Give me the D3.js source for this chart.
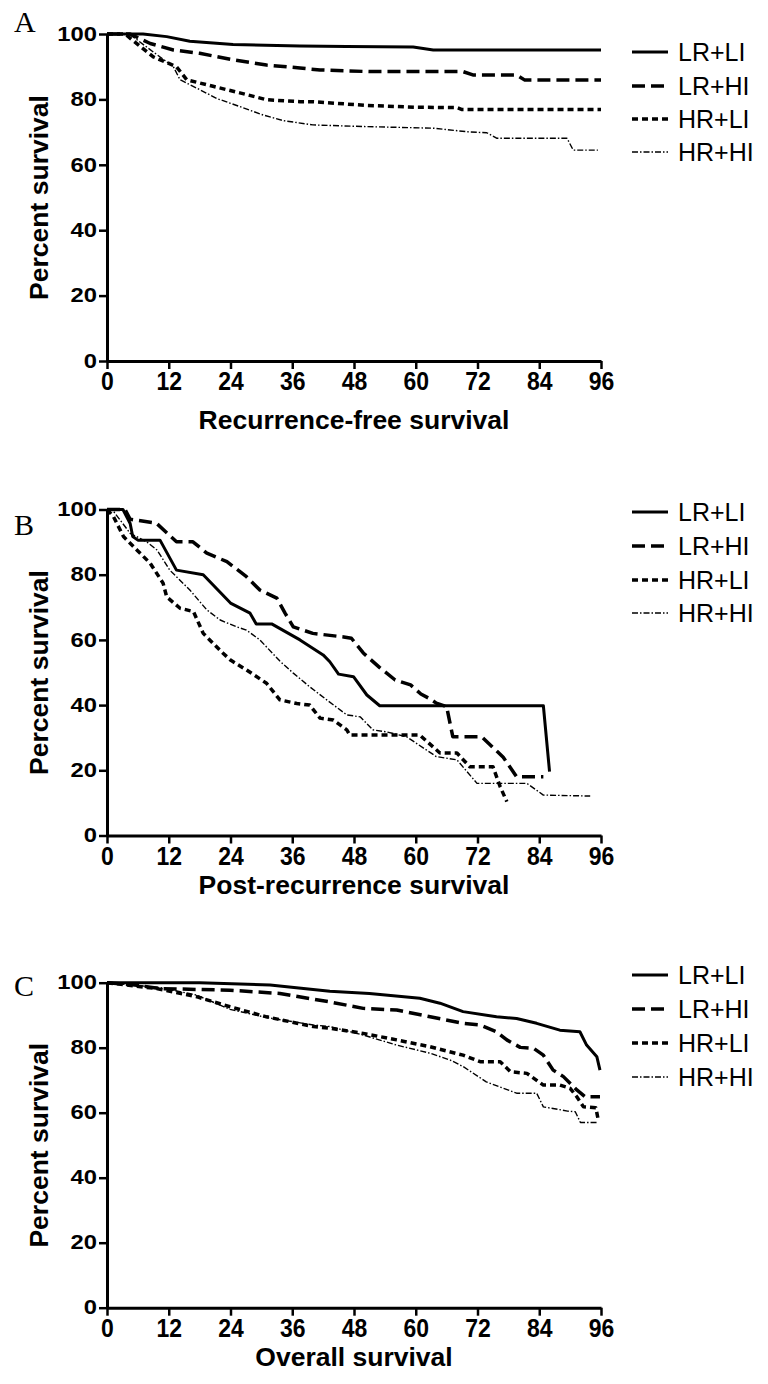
<!DOCTYPE html>
<html>
<head>
<meta charset="utf-8">
<script src="https://cdn.jsdelivr.net/npm/d3@7"></script>
<style>
  body { margin: 0; background: #fff; }
  text { font-family: "Liberation Sans", Arial, sans-serif; fill: #000; }
</style>
</head>
<body>
<script>
const width = 768, height = 1384;

const groups = ["LR+LI", "LR+HI", "HR+LI", "HR+HI"];
const monthTicks = [0, 12, 24, 36, 48, 60, 72, 84, 96];
const pctTicks = [0, 20, 40, 60, 80, 100];

// [month, percent survival]
// A: recurrence-free survival
const rfsLRLI = [[0,100],[7,100],[11.6,99.2],[16.1,97.8],[24.5,96.8],[37.5,96.3],[46.6,96.2],[59.5,96],[63.4,95.1],[96,95.1]];
const rfsLRHI = [[0,100],[4.5,100],[8.4,97.1],[12.9,95.1],[18,94.1],[24.5,92.1],[31,90.5],[37.5,89.6],[41.4,89],[51,88.5],[69.2,88.5],[71.1,87.5],[79.6,87.5],[81.2,85.9],[96,85.9]];
const rfsHRLI = [[0,100],[3.5,100],[9,93],[13.5,90],[15.5,86],[20.6,84],[25.8,82],[31,79.9],[37.5,79.3],[40,79.3],[50,78.2],[60,77.6],[68,77.5],[69,76.9],[96,76.9]];
const rfsHRHI = [[0,100],[4,100],[5,99.2],[9,94.5],[12.9,90],[14.2,86],[18,83],[21.3,80.3],[25.8,77.8],[30.4,75.2],[34.3,73.5],[40,72.2],[49.7,71.7],[63.4,71.2],[70,70.1],[73.8,69.8],[75.8,68.1],[89.4,68.1],[90.6,64.5],[95.4,64.5]];

// B: post-recurrence survival
const prsLRLI = [[0,100],[3.1,100],[4.5,95.7],[5,91.7],[6,90.6],[10.3,90.6],[13.5,81.4],[18.7,80],[24,71.3],[27.8,68.2],[29,64.9],[32,64.9],[37.5,60],[42,55.4],[43.3,53.3],[45,49.5],[47.9,48.7],[50.5,43.1],[53,39.8],[84.8,39.8],[86,19.6]];
const prsLRHI = [[0,100],[3.5,100],[4.5,97],[9.6,95.8],[13.5,90.1],[16.7,90.1],[19.4,86.6],[23.3,84],[27.1,79.4],[29.7,75.3],[33,72.8],[34.6,68.2],[36.2,64],[40,62],[46,60.9],[47.5,60.5],[49.8,56],[53,51.5],[56,47.7],[59,46.2],[61,43.4],[62.8,41.9],[64,40.6],[66,39.5],[67.2,30.3],[72.8,30.3],[75,27],[77,24],[79.6,18],[84.8,18]];
const prsHRLI = [[0,100],[1.2,98],[3.2,91.7],[5.8,87.6],[8.4,83.5],[10.9,77.4],[11.6,73.2],[14.2,69.7],[16.8,68.7],[18.7,62],[22.5,56],[24,53.8],[27.1,50.8],[31,46.7],[33.6,41.6],[36.9,40.5],[39.4,40],[41.4,36],[44,35.4],[46.6,32.4],[47.2,30.8],[60.8,30.8],[64.7,25.3],[68,25.3],[70.5,21.1],[75,21.1],[76.4,15],[77.7,10.4]];
const prsHRHI = [[0,100],[1,100],[4.5,92.7],[7.7,90.1],[9.7,87.6],[12.2,81.4],[16.1,75.3],[19.4,69.2],[22,66.1],[25.2,64],[27.1,63],[29.7,60],[33.6,53.5],[36.2,49.8],[39.4,45.6],[42.7,41.6],[46.6,37],[49.2,36.4],[51.7,32.4],[54.3,31.8],[58.2,30.3],[64,24.2],[68,23.2],[71.9,16],[81.6,16],[84.8,12.4],[93.9,12.1]];

// C: overall survival
const osLRLI = [[0,100],[18,100],[31.7,99.3],[43.3,97.4],[51,96.7],[60.8,95.2],[64.7,93.7],[69.2,91.1],[75.7,89.5],[79.6,89],[83.5,87.5],[88,85.4],[91.9,84.9],[93.2,80.8],[95.2,77.2],[95.8,73.1]];
const osLRHI = [[0,100],[5,99.4],[10.3,98.2],[23.9,97.7],[33.6,96.7],[43.6,94],[49.8,92.1],[56.3,91.6],[62.8,89.5],[69.2,87.5],[72.5,87],[75.7,84.9],[77.7,82.4],[80.3,80.1],[82.9,79.8],[84.8,77.7],[86.7,73.1],[88.7,71.1],[91.3,67],[92.9,64.9],[95.8,64.9]];
const osHRLI = [[0,100],[9.6,98.2],[17.4,95.7],[23.9,92.6],[31,89.5],[40.1,86.5],[43.3,86],[49.8,84.4],[56.3,82.4],[62.8,80.3],[69.2,77.7],[72.5,75.7],[76.4,75.7],[78.4,72.6],[81.6,72.1],[84.8,68.5],[88,68.5],[90,67.5],[91.3,64.9],[92.6,61.8],[95,61.5],[95.5,57.5]];
const osHRHI = [[0,100],[10.3,98.5],[17.4,96.2],[23.9,91.8],[31,89.3],[40.1,87],[43.3,86.5],[49.8,83.9],[56.3,80.8],[62.8,78.3],[66.7,76.2],[69.2,74.2],[73.7,69.5],[79.6,66],[83.5,66],[84.8,61.8],[89.5,60.5],[91,60.3],[92,57],[95.5,57]];

// line look per group
const styles = {
  "LR+LI": { w: 3,   dash: null },
  "LR+HI": { w: 3.5, dash: "13,6" },
  "HR+LI": { w: 3.5, dash: "6,4" },
  "HR+HI": { w: 1.4, dash: "6,2,1.5,2" }
};

const panels = [
  { letter: "A", title: "Recurrence-free survival", series: [rfsLRLI, rfsLRHI, rfsHRLI, rfsHRHI],
    top: 34, bottom: 361, letterY: 32, titleY: 429, legendY: [52, 86, 119, 152] },
  { letter: "B", title: "Post-recurrence survival", series: [prsLRLI, prsLRHI, prsHRLI, prsHRHI],
    top: 509.5, bottom: 835.5, letterY: 535, titleY: 894, legendY: [512, 546, 580, 613] },
  { letter: "C", title: "Overall survival", series: [osLRLI, osLRHI, osHRLI, osHRHI],
    top: 982.7, bottom: 1307.7, letterY: 996, titleY: 1366, legendY: [975, 1009, 1043, 1077] }
];

const left = 107, right = 601;

// stretch or squeeze text to mimic the figure's odd glyph widths
function squash(sel, k) {
  sel.each(function() {
    const w = this.getComputedTextLength();
    d3.select(this).attr("textLength", w * k).attr("lengthAdjust", "spacingAndGlyphs");
  });
}

const svg = d3.select("body").append("svg")
  .attr("width", width)
  .attr("height", height);

svg.append("rect").attr("width", width).attr("height", height).attr("fill", "#fff");

const x = d3.scaleLinear().domain([0, 96]).range([left, right]);

panels.forEach(p => {
  const y = d3.scaleLinear().domain([0, 100]).range([p.bottom, p.top]);
  const g = svg.append("g");

  // curves
  const line = d3.line().x(d => x(d[0])).y(d => y(d[1]));
  p.series.forEach((s, i) => {
    const st = styles[groups[i]];
    g.append("path")
      .attr("d", line(s))
      .attr("fill", "none")
      .attr("stroke", "#000")
      .attr("stroke-width", st.w)
      .attr("stroke-dasharray", st.dash)
      .attr("stroke-linejoin", "round");
  });

  // axes
  const yAxis = g.append("g")
    .attr("transform", `translate(${left},0)`)
    .call(d3.axisLeft(y).tickValues(pctTicks).tickSize(8).tickSizeOuter(0).tickPadding(2));
  const xAxis = g.append("g")
    .attr("transform", `translate(0,${p.bottom})`)
    .call(d3.axisBottom(x).tickValues(monthTicks).tickSize(8).tickSizeOuter(0).tickPadding(3));

  [yAxis, xAxis].forEach(a => {
    a.select(".domain").attr("stroke-width", 3);
    a.selectAll(".tick line").attr("stroke-width", 2.5);
  });
  yAxis.selectAll(".tick text")
    .attr("font-size", 19.5).attr("font-weight", "bold")
    .attr("font-family", "Liberation Sans, Arial, sans-serif")
    .call(squash, 1.22);
  xAxis.selectAll(".tick text")
    .attr("font-size", 25.5).attr("font-weight", "bold")
    .attr("font-family", "Liberation Sans, Arial, sans-serif")
    .call(squash, 0.9);

  // axis titles
  g.append("text")
    .attr("transform", `translate(48,${(p.top + p.bottom) / 2}) rotate(-90)`)
    .attr("text-anchor", "middle")
    .attr("font-size", 26.5).attr("font-weight", "bold")
    .text("Percent survival");

  g.append("text")
    .attr("x", (left + right) / 2)
    .attr("y", p.titleY)
    .attr("text-anchor", "middle")
    .attr("font-size", 26.5).attr("font-weight", "bold")
    .text(p.title);

  // panel letter
  g.append("text")
    .attr("x", 14).attr("y", p.letterY)
    .style("font-family", "Liberation Serif, Times New Roman, serif")
    .attr("font-size", 30)
    .text(p.letter);

  // legend
  const leg = g.selectAll(".leg").data(groups).enter().append("g")
    .attr("transform", (d, i) => `translate(632,${p.legendY[i]})`);
  leg.append("line")
    .attr("x1", 0).attr("x2", 36)
    .attr("stroke", "#000")
    .attr("stroke-width", d => styles[d].w)
    .attr("stroke-dasharray", d => styles[d].dash);
  leg.append("text")
    .attr("x", 46).attr("dy", "0.36em")
    .attr("font-size", 25)
    .text(d => d);
});
</script>
</body>
</html>
